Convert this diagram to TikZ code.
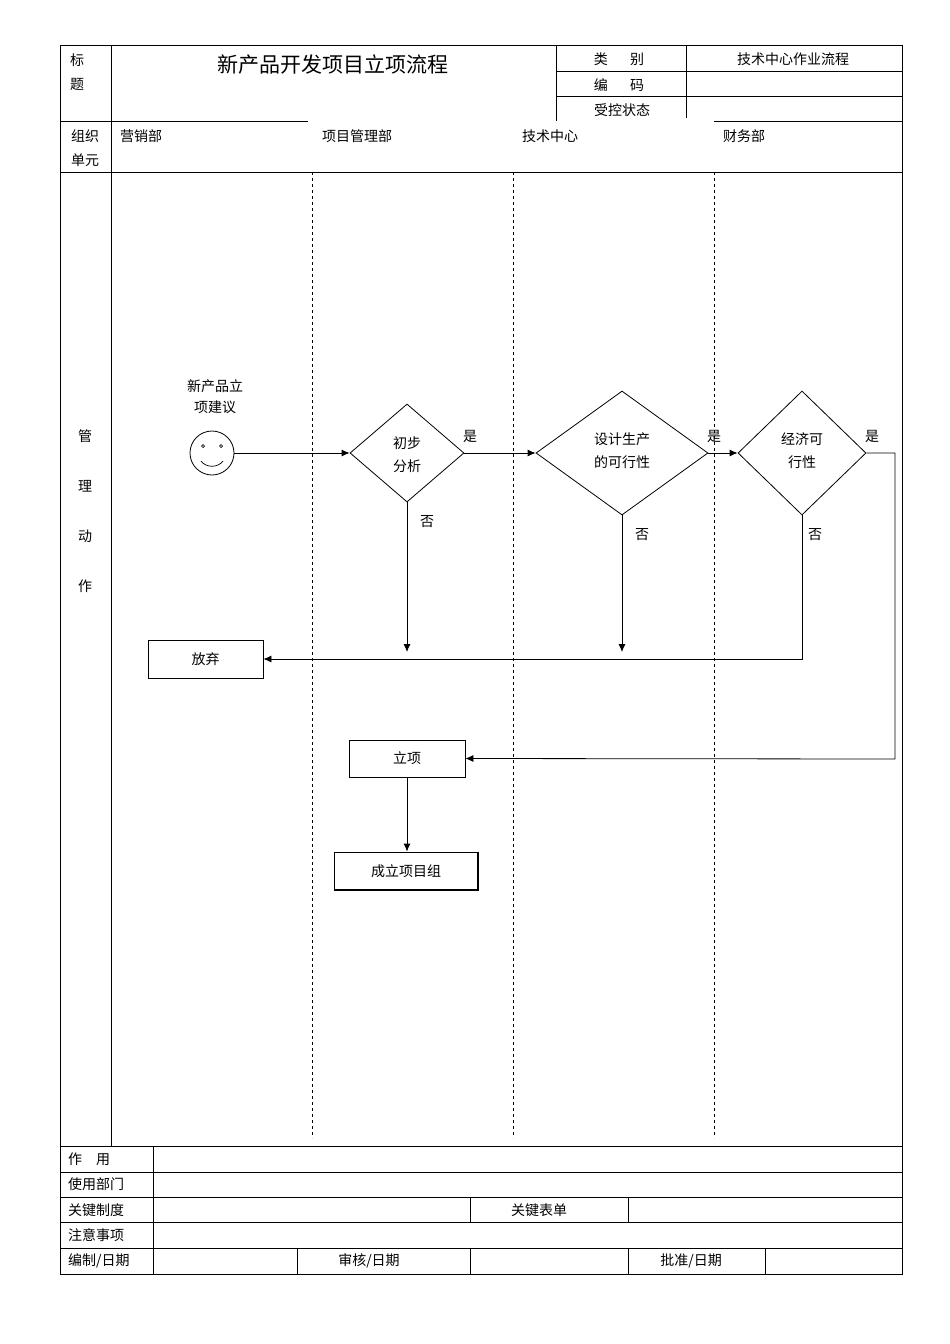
\documentclass[tikz,border=0pt]{standalone}
\usepackage{fontspec}
\setmainfont{Noto Sans CJK SC}
\usetikzlibrary{shapes.geometric,arrows.meta}
\begin{document}
\begin{tikzpicture}[x=1pt,y=-1pt,
  ln/.style={line width=0.8pt},
  t/.style={font=\fontsize{14}{17}\selectfont,inner sep=0pt},
  dia/.style={draw,diamond,aspect=1,inner sep=0pt,line width=0.8pt},
  box/.style={draw,rectangle,line width=0.8pt,font=\fontsize{14}{17}\selectfont},
  arr/.style={line width=0.8pt,-{Latex[length=8pt,width=7pt]}},
  dsh/.style={dashed,line width=0.6pt}]
\useasboundingbox (0,0) rectangle (950,1344);
% frame
\draw[ln] (60,45) rectangle (902,1274);
\draw[ln] (111,45) -- (111,1146);
\draw[ln] (60,121) -- (308,121);
\draw[ln] (714,121) -- (902,121);
\draw[ln] (556,45) -- (556,121);
\draw[ln] (686,45) -- (686,118);
\draw[ln] (556,71) -- (902,71);
\draw[ln] (556,96) -- (902,96);
\draw[ln] (60,172) -- (902,172);
\foreach \x in {312,513,714} \draw[dsh] (\x,172) -- (\x,1138);
% header text
\node[t] at (77,60) {标};
\node[t] at (77,84) {题};
\node[inner sep=0pt,font=\fontsize{21}{24}\selectfont] at (333,65) {新产品开发项目立项流程};
\node[t] at (619,59) {类\hspace{1.6em}别};
\node[t] at (619,85) {编\hspace{1.6em}码};
\node[t] at (622,110) {受控状态};
\node[t] at (793,59) {技术中心作业流程};
\node[t] at (85,136) {组织};
\node[t] at (85,160) {单元};
\node[t,anchor=west] at (120,136) {营销部};
\node[t,anchor=west] at (322,136) {项目管理部};
\node[t,anchor=west] at (522,136) {技术中心};
\node[t,anchor=west] at (723,136) {财务部};
\node[t] at (85,436) {管};
\node[t] at (85,486) {理};
\node[t] at (85,536) {动};
\node[t] at (85,586) {作};
% bottom table
\foreach \y in {1146,1172,1197,1222,1248} \draw[ln] (60,\y) -- (902,\y);
\draw[ln] (153,1146) -- (153,1274);
\draw[ln] (470,1197) -- (470,1222);
\draw[ln] (628,1197) -- (628,1222);
\foreach \x in {297,470,628,765} \draw[ln] (\x,1248) -- (\x,1274);
\node[t,anchor=west] at (68,1159) {作\hspace{1em}用};
\node[t,anchor=west] at (68,1184) {使用部门};
\node[t,anchor=west] at (68,1210) {关键制度};
\node[t] at (539,1210) {关键表单};
\node[t,anchor=west] at (68,1235) {注意事项};
\node[t,anchor=west] at (68,1261) {编制/日期};
\node[t] at (369,1261) {审核/日期};
\node[t] at (691,1261) {批准/日期};
% flow
\node[t,align=center] at (215,397) {新产品立\\[4pt]项建议};
\node[draw,circle,minimum size=44pt,inner sep=0pt,line width=0.8pt] (s) at (212,453) {};
\draw[line width=0.7pt] (203,446) circle (1.5pt) (221,446) circle (1.5pt);
\draw[line width=0.7pt] (201,461) .. controls (206,468) and (218,468) .. (223,461);
\node[dia,minimum width=114pt,minimum height=98pt] (d1) at (407,453) {};
\node[t,align=center] at (407,455) {初步\\[6pt]分析};
\node[dia,minimum width=172pt,minimum height=124pt] (d2) at (622,453) {};
\node[t,align=center] at (622,451) {设计生产\\[6pt]的可行性};
\node[dia,minimum width=128pt,minimum height=124pt] (d3) at (802,453) {};
\node[t,align=center] at (802,451) {经济可\\[6pt]行性};
\node[t] at (470,436) {是};
\node[t] at (427,522) {否};
\node[t] at (714,436) {是};
\node[t] at (642,535) {否};
\node[t] at (872,436) {是};
\node[t] at (815,535) {否};
\node[box,minimum width=115pt,minimum height=38pt] (fq) at (205.5,659) {放弃};
\node[box,minimum width=116pt,minimum height=37pt] (lx) at (407,758.5) {立项};
\node[box,minimum width=144pt,minimum height=38pt] (zu) at (406,871) {成立项目组};
\draw[line width=1.5pt] (335,890) -- (478,890) -- (478,853);
\coordinate (e1) at (407,652);
\coordinate (e2) at (622,652);
\coordinate (c3) at (802,659);
\coordinate (r1) at (895,453);
\coordinate (r2) at (895,759);
\draw[arr] (s.east) -- (d1.west);
\draw[arr] (d1.east) -- (d2.west);
\draw[arr] (d2.east) -- (d3.west);
\draw[arr] (d1.south) -- (e1);
\draw[arr] (d2.south) -- (e2);
\draw[arr] (d3.south) -- (c3) -- (fq.east);
\draw[arr] (d3.east) -- (r1) -- (r2) -- (lx.east);
\draw[arr] (lx.south) -- (lx.south |- zu.north);
\end{tikzpicture}
\end{document}
